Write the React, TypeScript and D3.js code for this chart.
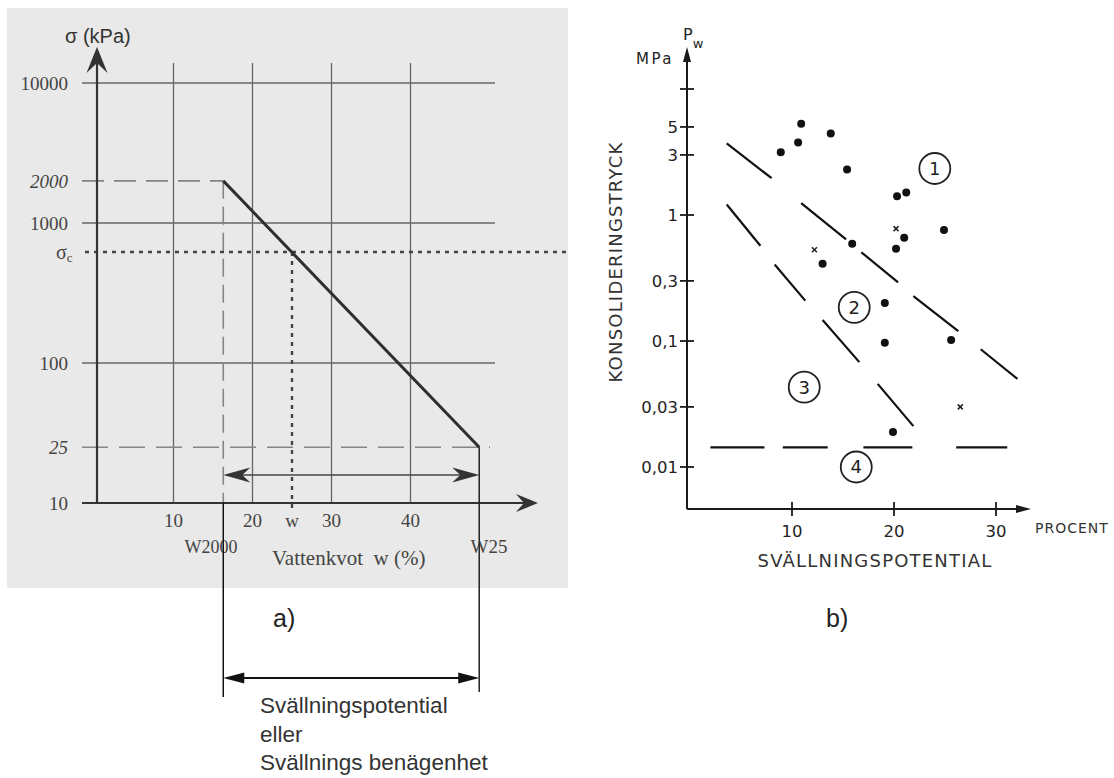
import * as d3 from 'd3'

const W = 1114
const H = 778

// ---- a) sigma vs water content ----
const sigmaTicks = [10, 25, 100, 1000, 2000, 10000]
const sigmaTickLabels = ['10', '25', '100', '1000', '2000', '10000']
const italicSigma = [25, 2000]
const sigmaGrid = [100, 1000, 10000]
const wTicks = [10, 20, 30, 40]
const w2000 = 16.3
const w25 = 48.7
const wNat = 25.0
const sigmaC = 620
const sigmaHigh = 2000
const sigmaLow = 25

// ---- b) swelling pressure vs swelling potential ----
const pTicks = [0.01, 0.03, 0.1, 0.3, 1, 3, 5, 10]
const pTickLabels = ['0,01', '0,03', '0,1', '0,3', '1', '3', '5', '']
const procentTicks = [10, 20, 30]
const dotW = [8.9, 10.9, 10.6, 13.8, 15.4, 20.3, 21.2, 15.9, 13.0, 20.2, 21.0, 24.9, 19.1, 19.1, 25.6, 19.9]
const dotP = [3.15, 5.3, 3.76, 4.44, 2.3, 1.41, 1.51, 0.59, 0.41, 0.54, 0.66, 0.76, 0.2, 0.097, 0.102, 0.019]
const crossW = [20.2, 12.2, 26.5]
const crossP = [0.78, 0.53, 0.03]
// dashes of the zone borders: [w1, p1, w2, p2]
const upperDashes = [
  [3.6, 3.7, 8.0, 1.96],
  [10.9, 1.24, 15.3, 0.64],
  [16.8, 0.506, 20.4, 0.292],
  [21.9, 0.227, 26.3, 0.12],
  [28.5, 0.086, 32.1, 0.05],
]
const lowerDashes = [
  [3.6, 1.21, 6.9, 0.57],
  [8.3, 0.405, 11.3, 0.209],
  [13.0, 0.147, 16.6, 0.068],
  [18.4, 0.0457, 21.9, 0.0211],
]
const floorP = 0.0143
const floorDashes = [[2.0, 7.3], [9.1, 13.5], [17.0, 21.8], [26.1, 31.1]]
const zoneLabels = ['1', '2', '3', '4']
const zoneW = [24.0, 16.1, 11.2, 16.3]
const zoneP = [2.34, 0.185, 0.043, 0.01]

const SERIF = '"Liberation Serif", "Times New Roman", serif'
const ARIAL = '"Liberation Sans", Arial, sans-serif'
const TECH = '"DejaVu Sans", sans-serif'

// arrow head pointing along (dx,dy), notch < len gives a barbed head
function arrowHead(tx: number, ty: number, dx: number, dy: number, len: number, half: number, notch: number) {
  const bx = tx - dx * len
  const by = ty - dy * len
  const nx = -dy
  const ny = dx
  const kx = tx - dx * notch
  const ky = ty - dy * notch
  return `M${tx},${ty}L${bx + nx * half},${by + ny * half}L${kx},${ky}L${bx - nx * half},${by - ny * half}Z`
}

export default function App() {
  const xL = d3.scaleLinear().domain([0, 40]).range([94.5, 410.5])
  const yL = d3.scaleLog().domain([10, 10000]).range([503, 83])
  const xR = d3.scaleLinear().domain([0, 30]).range([690, 996])
  const yR = d3.scaleLog().domain([0.01, 10]).range([467, 89])

  const axLX = 97
  const axLY = 503
  const axRX = 687
  const axRY = 509

  const gridC = '#666'
  const dashC = '#858585'

  const curve = d3.line<[number, number]>().x(d => xL(d[0])).y(d => yL(d[1]))

  return (
    <svg width={W} height={H} style={{ position: 'absolute', left: 0, top: 0, background: '#fff' }}>
      {/* ---------------- a) ---------------- */}
      <rect x={7} y={8} width={561} height={580} fill="#e9e9e9" />

      {/* grid */}
      {wTicks.map(t => (
        <line key={'vg' + t} x1={xL(t)} x2={xL(t)} y1={63} y2={axLY} stroke={gridC} strokeWidth={1.3} />
      ))}
      {sigmaGrid.map(t => (
        <line key={'hg' + t} x1={82} x2={495} y1={yL(t)} y2={yL(t)} stroke={gridC} strokeWidth={1.3} />
      ))}

      {/* reference dashed lines */}
      <line x1={82} x2={xL(w2000)} y1={yL(sigmaHigh)} y2={yL(sigmaHigh)} stroke={dashC} strokeWidth={1.6} strokeDasharray="22,10" />
      <line x1={82} x2={490} y1={yL(sigmaLow)} y2={yL(sigmaLow)} stroke={dashC} strokeWidth={1.6} strokeDasharray="26,11" />
      <line x1={xL(w2000)} x2={xL(w2000)} y1={yL(sigmaHigh)} y2={axLY} stroke={dashC} strokeWidth={1.6} strokeDasharray="18,8" />
      <line x1={85} x2={567} y1={yL(sigmaC)} y2={yL(sigmaC)} stroke="#444" strokeWidth={2.4} strokeDasharray="4,5" />
      <line x1={xL(wNat)} x2={xL(wNat)} y1={yL(sigmaC)} y2={axLY + 8} stroke="#444" strokeWidth={2.4} strokeDasharray="4,5" />

      {/* solid line */}
      <path d={curve([[w2000, sigmaHigh], [w25, sigmaLow]]) || ''} fill="none" stroke="#2e2e2e" strokeWidth={3} />

      {/* double arrow inside */}
      <line x1={xL(w2000) + 10} x2={xL(w25) - 10} y1={475} y2={475} stroke="#444" strokeWidth={1.5} />
      <path d={arrowHead(xL(w2000), 475, -1, 0, 27, 7.5, 19)} fill="#333" />
      <path d={arrowHead(xL(w25), 475, 1, 0, 27, 7.5, 19)} fill="#333" />

      {/* axes */}
      <line x1={axLX} x2={axLX} y1={axLY} y2={55} stroke="#333" strokeWidth={2.2} />
      <path d={arrowHead(axLX, 47, 0, -1, 26, 10.5, 16)} fill="#333" />
      <line x1={82} x2={525} y1={axLY} y2={axLY} stroke="#333" strokeWidth={2.2} />
      <path d={arrowHead(538, axLY, 1, 0, 22, 9, 14)} fill="#333" />

      {/* y tick labels */}
      {sigmaTicks.map((t, i) => (
        <text key={'yl' + t} x={68} y={yL(t)} dy="0.35em" textAnchor="end" fontFamily={SERIF} fontSize={19}
          fontStyle={italicSigma.includes(t) ? 'italic' : 'normal'} fill="#444">
          {sigmaTickLabels[i]}
        </text>
      ))}
      <text x={56} y={yL(sigmaC)} dy="0.35em" fontFamily={SERIF} fontSize={20} fill="#444">
        σ<tspan fontSize={13} dy="3">c</tspan>
      </text>
      <text x={65} y={43} fontFamily={ARIAL} fontSize={20} fill="#333">σ (kPa)</text>

      {/* x tick labels */}
      {wTicks.map(t => (
        <text key={'xl' + t} x={xL(t)} y={527} textAnchor="middle" fontFamily={SERIF} fontSize={19} fill="#444">{t}</text>
      ))}
      <text x={xL(wNat)} y={527} textAnchor="middle" fontFamily={SERIF} fontSize={19} fill="#444">w</text>
      <text x={211} y={553} textAnchor="middle" fontFamily={SERIF} fontSize={18} fill="#444">W2000</text>
      <text x={489} y={553} textAnchor="middle" fontFamily={SERIF} fontSize={19} fill="#444">W25</text>
      <text x={272} y={565} fontFamily={SERIF} fontSize={21} fill="#444">Vattenkvot{'\u00a0 '}w (%)</text>

      {/* bracket below */}
      <line x1={xL(w2000)} x2={xL(w2000)} y1={axLY} y2={697} stroke="#111" strokeWidth={1.5} />
      <line x1={xL(w25)} x2={xL(w25)} y1={yL(sigmaLow)} y2={692} stroke="#222" strokeWidth={1.5} />
      <line x1={xL(w2000) + 15} x2={xL(w25) - 15} y1={678} y2={678} stroke="#111" strokeWidth={2} />
      <path d={arrowHead(xL(w2000), 678, -1, 0, 21, 5.5, 21)} fill="#111" />
      <path d={arrowHead(xL(w25), 678, 1, 0, 21, 5.5, 21)} fill="#111" />

      <text x={273} y={627} fontFamily={ARIAL} fontSize={25} fill="#222">a)</text>
      <g fontFamily={ARIAL} fontSize={22.5} fill="#333">
        <text x={260} y={713}>Svällningspotential</text>
        <text x={260} y={742}>eller</text>
        <text x={260} y={770}>Svällnings benägenhet</text>
      </g>

      {/* ---------------- b) ---------------- */}
      <g stroke="#1a1a1a" fill="none" strokeWidth={2}>
        <line x1={axRX} x2={axRX} y1={axRY} y2={58} />
        <line x1={axRX} x2={1020} y1={axRY} y2={axRY} />
      </g>
      <path d={arrowHead(axRX, 47, 0, -1, 15, 4, 15)} fill="#1a1a1a" />
      <path d={arrowHead(1031, axRY, 1, 0, 15, 4, 15)} fill="#1a1a1a" />

      {pTicks.map((t, i) => (
        <g key={'pt' + t}>
          <line x1={axRX - 7} x2={axRX + 7} y1={yR(t)} y2={yR(t)} stroke="#1a1a1a" strokeWidth={1.8} />
          <text x={678} y={yR(t)} dy="0.36em" textAnchor="end" fontFamily={TECH} fontSize={16.5} fill="#222">{pTickLabels[i]}</text>
        </g>
      ))}
      {procentTicks.map(t => (
        <g key={'xt' + t}>
          <line x1={xR(t)} x2={xR(t)} y1={axRY - 7} y2={axRY + 7} stroke="#1a1a1a" strokeWidth={1.8} />
          <text x={xR(t)} y={537} textAnchor="middle" fontFamily={TECH} fontSize={16.5} fill="#222">{t}</text>
        </g>
      ))}

      <text x={1035} y={533} fontFamily={TECH} fontSize={14} letterSpacing={1} fill="#333">PROCENT</text>
      <text x={875} y={567} textAnchor="middle" fontFamily={TECH} fontSize={18} letterSpacing={1.2} fill="#333">SVÄLLNINGSPOTENTIAL</text>
      <text transform="translate(622,262) rotate(-90)" textAnchor="middle" fontFamily={TECH} fontSize={18} letterSpacing={1.2} fill="#333">KONSOLIDERINGSTRYCK</text>
      <text x={674} y={64} textAnchor="end" fontFamily={TECH} fontSize={15} letterSpacing={2.5} fill="#222">MPa</text>
      <text x={683} y={40} fontFamily={TECH} fontSize={16} fill="#222">P<tspan fontSize={13} dy="8">w</tspan></text>

      {/* zone borders */}
      {[...upperDashes, ...lowerDashes].map((d, i) => (
        <line key={'zd' + i} x1={xR(d[0])} y1={yR(d[1])} x2={xR(d[2])} y2={yR(d[3])} stroke="#111" strokeWidth={2.2} />
      ))}
      {floorDashes.map((d, i) => (
        <line key={'fd' + i} x1={xR(d[0])} x2={xR(d[1])} y1={yR(floorP)} y2={yR(floorP)} stroke="#111" strokeWidth={2.2} />
      ))}

      {/* data */}
      {dotW.map((w, i) => (
        <circle key={'dot' + i} cx={xR(w)} cy={yR(dotP[i])} r={4} fill="#111" />
      ))}
      {crossW.map((w, i) => (
        <g key={'cr' + i} stroke="#222" strokeWidth={1.5}>
          <line x1={xR(w) - 2.5} x2={xR(w) + 2.5} y1={yR(crossP[i]) - 2.5} y2={yR(crossP[i]) + 2.5} />
          <line x1={xR(w) - 2.5} x2={xR(w) + 2.5} y1={yR(crossP[i]) + 2.5} y2={yR(crossP[i]) - 2.5} />
        </g>
      ))}

      {/* zone labels */}
      {zoneLabels.map((z, i) => (
        <g key={'zl' + z}>
          <circle cx={xR(zoneW[i])} cy={yR(zoneP[i])} r={15.5} fill="#fff" stroke="#222" strokeWidth={1.8} />
          <text x={xR(zoneW[i])} y={yR(zoneP[i])} dy="0.36em" textAnchor="middle" fontFamily={TECH} fontSize={18} fill="#222">{z}</text>
        </g>
      ))}

      <text x={826} y={627} fontFamily={ARIAL} fontSize={25} fill="#222">b)</text>
    </svg>
  )
}
